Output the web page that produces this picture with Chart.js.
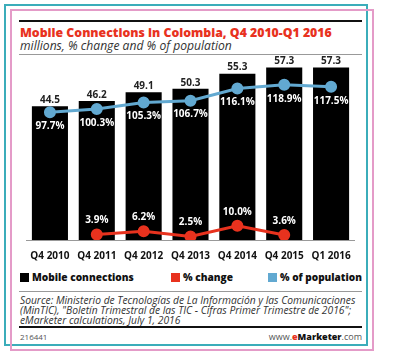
<!DOCTYPE html>
<html>
<head>
<meta charset="utf-8">
<script src="https://cdn.jsdelivr.net/npm/chart.js"></script>
<style>
  html, body { margin: 0; padding: 0; background: #fff; }
  body { width: 401px; height: 354px; position: relative; overflow: hidden; font-family: "Open Sans", "DejaVu Sans", sans-serif; }
  .frame { position: absolute; box-sizing: border-box; }
  #teal { left: 4px; top: 4px; width: 364px; height: 342px; border: 2px solid #3badba; }
  #pink { left: 10px; top: 9px; width: 364px; height: 342px; border: 2px solid #e49bc8; }
  .rule { position: absolute; left: 19px; width: 343px; }
  .txt { position: absolute; white-space: nowrap; }
  #title { left: 20px; top: 24px; color: #e8321e; font-weight: 800; font-size: 14px; }
  #subtitle { left: 20px; top: 37px; color: #333; font-style: italic; font-size: 12.5px; }
  #chartBox { position: absolute; left: 19px; top: 52px; width: 343px; height: 212px; }
  #legend { position: absolute; left: 20px; top: 270px; width: 343px; height: 14px; }
  .leg { position: absolute; top: 0; font-weight: 800; font-size: 10.5px; color: #111; white-space: nowrap; }
  .leg i { display: inline-block; width: 9px; height: 9px; margin-right: 3px; vertical-align: -1px; }
  #source { left: 20px; top: 295px; font-style: italic; font-size: 9.5px; line-height: 10px; color: #333; }
  #idnum { left: 20px; top: 331px; font-size: 8px; color: #555; }
  #site { right: 39px; top: 330px; font-size: 9px; color: #555; }
</style>
</head>
<body>
<div id="teal" class="frame"></div>
<div id="pink" class="frame"></div>
<div class="rule" style="top:20px;height:2px;background:#111"></div>
<div id="title" class="txt">Mobile Connections in Colombia, Q4 2010-Q1 2016</div>
<div id="subtitle" class="txt">millions, % change and % of population</div>
<div class="rule" style="top:54px;height:1px;background:#999"></div>
<div id="chartBox"><canvas id="chart"></canvas></div>
<div id="legend"></div>
<div class="rule" style="top:291px;height:1px;background:#999"></div>
<div id="source" class="txt">Source: Ministerio de Tecnologías de La Información y las Comunicaciones<br>(MinTIC), "Boletín Trimestral de las TIC - Cifras Primer Trimestre de 2016";<br>eMarketer calculations, July 1, 2016</div>
<div class="rule" style="top:326px;height:2px;background:#111"></div>
<div id="idnum" class="txt">216441</div>
<div id="site" class="txt">www.<span style="color:#e8321e;font-weight:800">e</span><span style="color:#111;font-weight:800">Marketer</span>.com</div>

<script>
// 데이터
const categories = ['Q4 2010', 'Q4 2011', 'Q4 2012', 'Q4 2013', 'Q4 2014', 'Q4 2015', 'Q1 2016'];
const connections = [44.5, 46.2, 49.1, 50.3, 55.3, 57.3, 57.3];
const pctChange = [null, 3.9, 6.2, 2.5, 10.0, 3.6, null];
const pctPopulation = [97.7, 100.3, 105.3, 106.7, 116.1, 118.9, 117.5];
const seriesNames = ['Mobile connections', '% change', '% of population'];
const seriesColors = ['#000000', '#e8321e', '#62a9d1'];

// 텍스트 폭 맞추기
function fitWidth(el, w) {
    if (typeof el === 'string') el = document.getElementById(el);
    const fs = parseFloat(getComputedStyle(el).fontSize);
    el.style.fontSize = (fs * w / el.getBoundingClientRect().width) + 'px';
}
fitWidth('title', 312);
fitWidth('subtitle', 212);
fitWidth('source', 336);

// 범례
const legendX = [0, 151, 248];
const legendW = [102, 50, 82];
document.getElementById('legend').innerHTML = seriesNames
    .map((name, i) => `<span class="leg" style="left:${legendX[i]}px"><i style="background:${seriesColors[i]}"></i><b>${name}</b></span>`)
    .join('');
document.querySelectorAll('.leg b').forEach((b, i) => fitWidth(b, legendW[i]));

// 값 라벨 플러그인
const valueLabels = {
    id: 'valueLabels',
    afterDatasetsDraw(chart) {
        const ctx = chart.ctx;
        ctx.save();
        ctx.textAlign = 'center';
        ctx.font = 'bold 10px "Open Sans", "DejaVu Sans", sans-serif';
        chart.data.datasets.forEach((ds, i) => {
            const meta = chart.getDatasetMeta(i);
            meta.data.forEach((el, j) => {
                const v = ds.data[j];
                if (v === null) return;
                if (ds.type === 'bar') {
                    ctx.fillStyle = '#222';
                    ctx.textBaseline = 'bottom';
                    ctx.fillText(v.toFixed(1), el.x, el.y - 1);
                } else if (ds.label === '% of population') {
                    ctx.fillStyle = '#fff';
                    ctx.textBaseline = 'middle';
                    ctx.fillText(v.toFixed(1) + '%', el.x, el.y + 14);
                } else {
                    ctx.fillStyle = '#fff';
                    ctx.textBaseline = 'middle';
                    ctx.fillText(v.toFixed(1) + '%', el.x, el.y - 14);
                }
            });
        });
        ctx.restore();
    }
};

new Chart(document.getElementById('chart'), {
    type: 'bar',
    data: {
        labels: categories,
        datasets: [
            {
                type: 'line',
                label: seriesNames[2],
                data: pctPopulation,
                yAxisID: 'yPop',
                borderColor: seriesColors[2],
                backgroundColor: seriesColors[2],
                borderWidth: 3,
                pointRadius: 4.5,
                tension: 0,
                order: 0
            },
            {
                type: 'line',
                label: seriesNames[1],
                data: pctChange,
                yAxisID: 'yChg',
                borderColor: seriesColors[1],
                backgroundColor: seriesColors[1],
                borderWidth: 3,
                pointRadius: 4.5,
                tension: 0,
                order: 0
            },
            {
                type: 'bar',
                label: seriesNames[0],
                data: connections,
                yAxisID: 'y',
                backgroundColor: seriesColors[0],
                categoryPercentage: 1,
                barPercentage: 0.77,
                order: 1
            }
        ]
    },
    options: {
        responsive: true,
        maintainAspectRatio: false,
        animation: false,
        layout: { padding: { top: 7, left: 1, right: 2, bottom: 0 } },
        plugins: {
            legend: { display: false },
            tooltip: { enabled: false }
        },
        scales: {
            x: {
                grid: { display: false },
                border: { display: true, color: '#999', width: 1 },
                ticks: {
                    color: '#111',
                    padding: 2,
                    font: { family: '"Open Sans", "DejaVu Sans", sans-serif', weight: 'bold', size: 10 }
                }
            },
            y: { display: false, min: 0, max: 60 },
            yPop: { display: false, min: -1, max: 138.5 },
            yChg: { display: false, min: 0, max: 127.5 }
        }
    },
    plugins: [valueLabels]
});
</script>
</body>
</html>
